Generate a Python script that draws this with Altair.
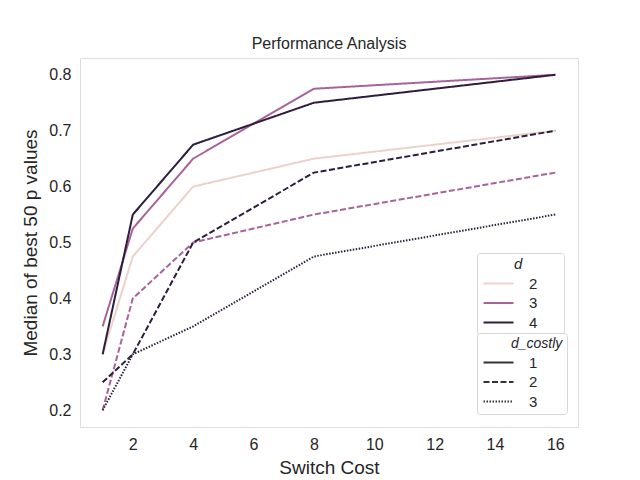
import altair as alt
import pandas as pd

switch_cost = [1, 2, 4, 8, 16]
d_values = [2, 3, 3, 4, 4, 4]
dcostly_values = [1, 1, 2, 1, 2, 3]
series = [
    [0.30, 0.475, 0.60, 0.65, 0.70],   # d=2, costly=1
    [0.35, 0.525, 0.65, 0.775, 0.80],  # d=3, costly=1
    [0.20, 0.40, 0.50, 0.55, 0.625],   # d=3, costly=2
    [0.30, 0.55, 0.675, 0.75, 0.80],   # d=4, costly=1
    [0.25, 0.30, 0.50, 0.625, 0.70],   # d=4, costly=2
    [0.20, 0.30, 0.35, 0.475, 0.55],   # d=4, costly=3
]
x_ticks = [2, 4, 6, 8, 10, 12, 14, 16]
y_ticks = [0.2, 0.3, 0.4, 0.5, 0.6, 0.7, 0.8]
palette = ["#edd1cb", "#a8649a", "#2d1e3e"]

rows = []
for d, dc, vals in zip(d_values, dcostly_values, series):
    for x, v in zip(switch_cost, vals):
        rows.append({"cost": x, "value": v, "d": str(d), "dc": str(dc),
                     "grp": f"{d}-{dc}"})
df = pd.DataFrame(rows)

FONT = "Liberation Sans"
BL = "\u2800"
NB = "\u00a0"
title_d = BL * 3 + "d" + BL * 2 + NB + BL
title_dc = BL * 3 + "d_costly"

legend_common = dict(
    orient="none", titleFontStyle="italic", titleFontWeight="normal",
    labelFontSize=15, symbolType="M-1,0H5", symbolSize=100,
    symbolStrokeWidth=2, labelOffset=33, rowPadding=3.5, padding=4, titlePadding=4,
    strokeColor="#d6d6d6", fillColor="white", cornerRadius=3,
    labelFont=FONT, titleFont=FONT, labelColor="#262626", titleColor="#262626",
)

chart = alt.Chart(df).mark_line(strokeWidth=2).encode(
    x=alt.X("cost:Q", title="Switch Cost",
            scale=alt.Scale(domain=[0.25, 16.75], nice=False, zero=False),
            axis=alt.Axis(values=x_ticks, format="d", grid=False, ticks=False,
                          domain=False, labelFontSize=16, titleFontSize=19,
                          labelPadding=9, titlePadding=6, labelColor="#262626",
                          titleColor="#262626", titleFontWeight="normal",
                          labelFont=FONT, titleFont=FONT)),
    y=alt.Y("value:Q", title="Median of best 50 p values",
            scale=alt.Scale(domain=[0.17, 0.83], nice=False, zero=False),
            axis=alt.Axis(values=y_ticks, format=".1f", grid=False, ticks=False,
                          domain=False, labelFontSize=16, titleFontSize=19,
                          labelPadding=9, titlePadding=8, labelColor="#262626",
                          titleColor="#262626", titleFontWeight="normal",
                          labelFont=FONT, titleFont=FONT)),
    color=alt.Color("d:N", scale=alt.Scale(domain=["2", "3", "4"], range=palette),
                    legend=alt.Legend(title=title_d, legendX=397, legendY=195,
                                      titleFontSize=15, **legend_common)),
    strokeDash=alt.StrokeDash("dc:N",
                              scale=alt.Scale(domain=["1", "2", "3"],
                                              range=[[1, 0], [6, 2.5], [1.5, 1.5]]),
                              legend=alt.Legend(title=title_dc, legendX=397, legendY=275,
                                                titleFontSize=14,
                                                symbolStrokeColor="#333333",
                                                **legend_common)),
    detail="grp:N",
).properties(
    width=498, height=369,
    title=alt.Title("Performance Analysis", fontSize=16, fontWeight="normal",
                    font=FONT, color="#262626", offset=6),
    autosize=alt.AutoSizeParams(type="none"),
    padding={"left": 72, "top": 50, "right": 54, "bottom": 62},
).configure_view(
    stroke="#cccccc", strokeWidth=1.2
).configure(background="white")

chart.save("out.html", embed_options={"renderer": "svg", "actions": False})
